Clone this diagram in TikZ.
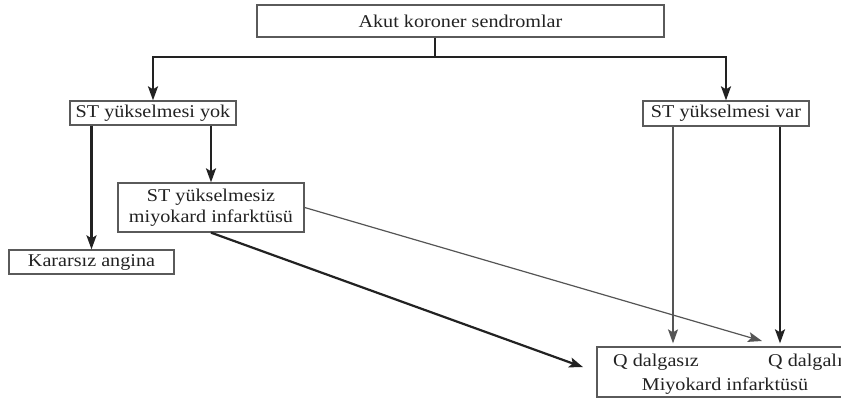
\documentclass[tikz,border=0pt]{standalone}
\usepackage{fontspec}
\setmainfont{Liberation Serif}
\usetikzlibrary{arrows.meta}
\definecolor{boxgray}{HTML}{5A5A5A}
\definecolor{txt}{HTML}{222222}
\definecolor{thickc}{HTML}{222222}
\definecolor{thinc}{HTML}{555555}
\newcommand{\wtxt}[1]{\scalebox{1.12}[1]{#1}}
\begin{document}
\begin{tikzpicture}[x=1pt,y=-1pt,
  box/.style={draw=boxgray, line width=1.3pt, rectangle, inner sep=0pt,
    font=\fontsize{18}{21}\selectfont, text=txt, align=center},
  lbl/.style={inner sep=0pt, font=\fontsize{18}{21}\selectfont, text=txt},
  thickline/.style={draw=thickc, line width=2.2pt},
  thickarrow/.style={draw=thickc, line width=2.2pt, -{Stealth[length=14pt,width=10pt,inset=3pt]}},
  thinarrow/.style={draw=thinc, line width=1.2pt, -{Stealth[length=14pt,width=10pt,inset=3pt]}}]
\useasboundingbox (0,0) rectangle (841,401);
\clip (0,0) rectangle (841,401);
\fill[white] (0,0) rectangle (841,401);

\node[box, minimum width=407pt, minimum height=32pt] (top) at (460.5,21) {\wtxt{Akut koroner sendromlar}};
\node[box, minimum width=166pt, minimum height=24pt] (yok) at (153,113) {\wtxt{ST yükselmesi yok}};
\node[box, minimum width=166pt, minimum height=25pt] (var) at (726,113.5) {\wtxt{ST yükselmesi var}};
\node[box, minimum width=186pt, minimum height=49pt] (ns) at (211,207.5) {\wtxt{ST yükselmesiz}\\\wtxt{miyokard infarktüsü}};
\node[box, minimum width=165pt, minimum height=24pt] (kar) at (91.5,262) {\wtxt{Kararsız angina}};
\node[box, minimum width=256pt, minimum height=50pt] (mi) at (725,372) {};
\node[lbl, anchor=base west] (qs) at (613,366) {\wtxt{Q dalgasız}};
\node[lbl, anchor=base west] (ql) at (768,366) {\wtxt{Q dalgalı}};
\node[lbl, anchor=base] (mit) at (725,390) {\wtxt{Miyokard infarktüsü}};

\coordinate (j) at (435,57);
\coordinate (jl) at (yok.north |- j);
\coordinate (jr) at (var.north |- j);
\draw[thickline] (top.south -| j) -- (j);
\draw[thickline, line cap=rect] (jl) -- (jr);
\draw[thickarrow] (jl) -- (yok.north);
\draw[thickarrow] (jr) -- (var.north);

\draw[thickarrow] (yok.south -| kar) -- (kar.north);
\draw[thickarrow] (yok.south -| ns) -- (ns.north);

\draw[thinarrow, shorten >=3pt] ([xshift=-53pt]var.south) -- ([xshift=-53pt]var.south |- mi.north);
\draw[thickarrow, shorten >=3pt] ([xshift=54pt]var.south) -- ([xshift=54pt]var.south |- mi.north);

\coordinate (qe) at (762,341);
\draw[thinarrow] (ns.east) -- (qe);
\draw[thickarrow, shorten >=14pt] (ns.south) -- (mi.west);
\end{tikzpicture}
\end{document}
